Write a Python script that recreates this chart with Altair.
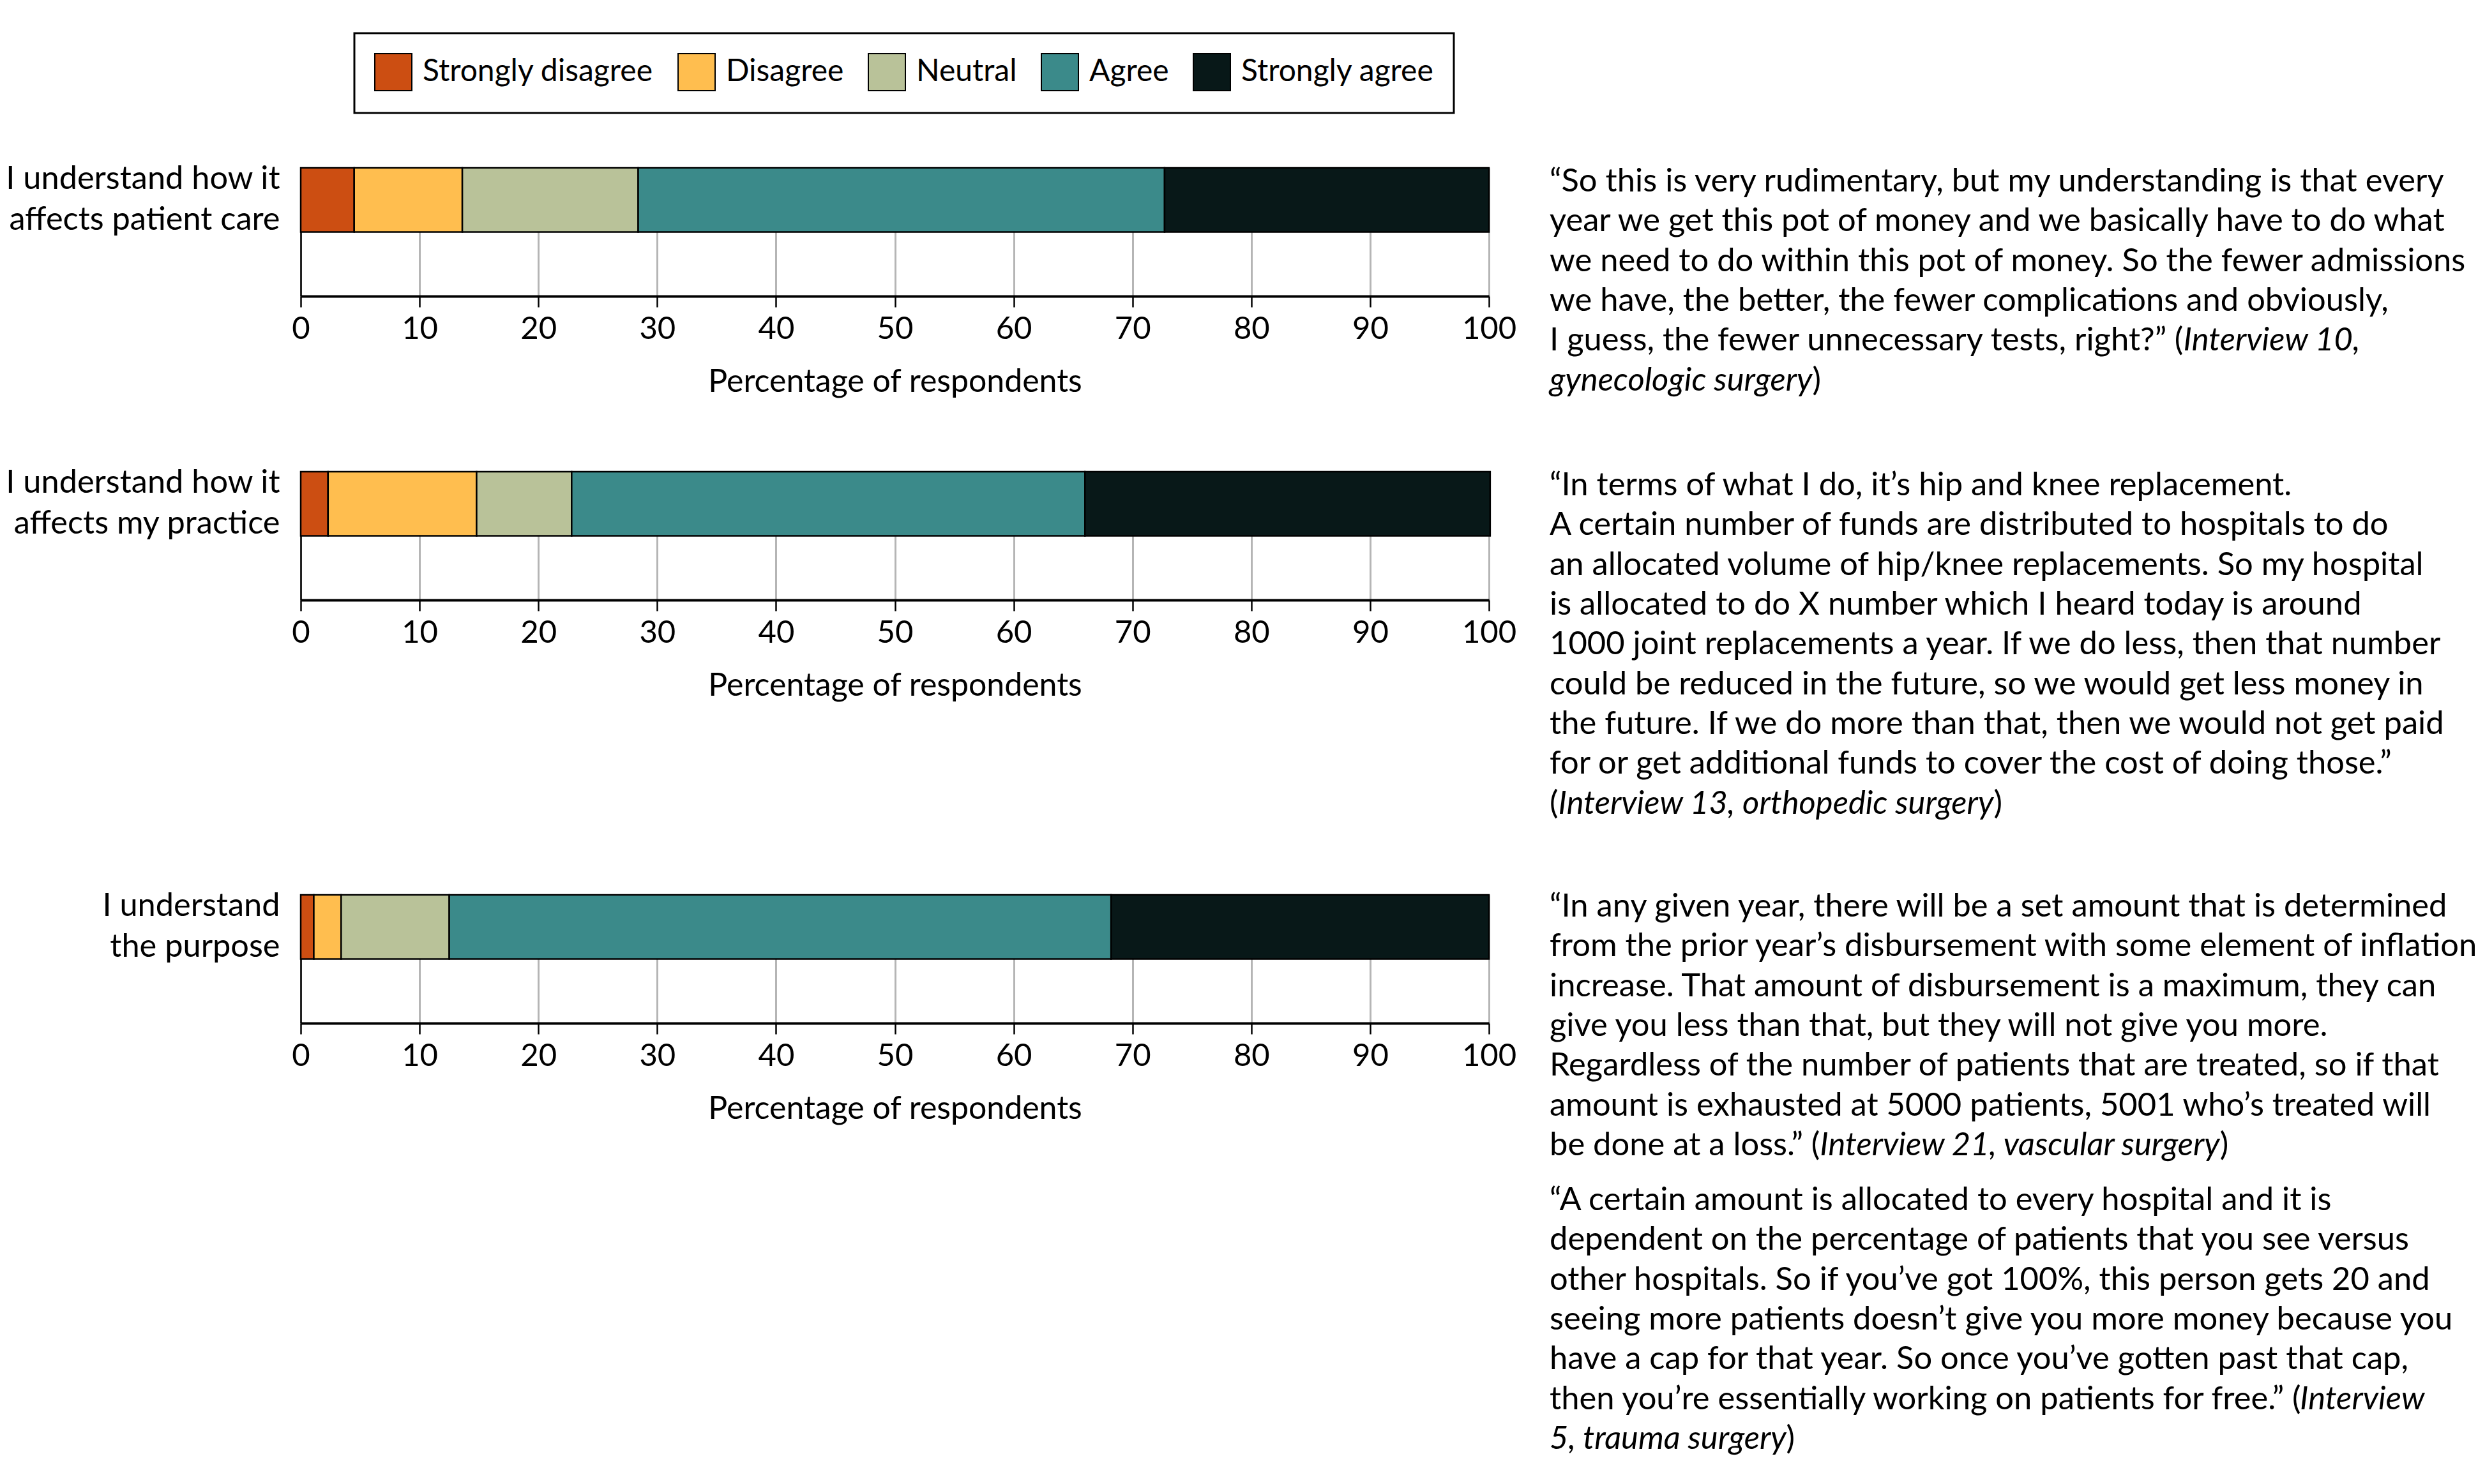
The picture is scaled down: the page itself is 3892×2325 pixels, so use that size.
import glob
import struct

import altair as alt
import pandas as pd

# ---------------- data ----------------
categories = ["Strongly disagree", "Disagree", "Neutral", "Agree", "Strongly agree"]
colors = ["#CC4E12", "#FFBE4F", "#B9C299", "#3B8A8A", "#081818"]

questions = [
    "I understand how it|affects patient care",
    "I understand how it|affects my practice",
    "I understand|the purpose",
]
values_patient_care = [4.5, 9.1, 14.8, 44.3, 27.3]
values_my_practice = [2.3, 12.5, 8.0, 43.2, 34.1]
values_purpose = [1.1, 2.3, 9.1, 55.7, 31.8]
x_ticks = [0, 10, 20, 30, 40, 50, 60, 70, 80, 90, 100]
x_title = "Percentage of respondents"

# text between * * is italic
quote_1 = [
    "\u201cSo this is very rudimentary, but my understanding is that every",
    "year we get this pot of money and we basically have to do what",
    "we need to do within this pot of money. So the fewer admissions",
    "we have, the better, the fewer complications and obviously,",
    "I guess, the fewer unnecessary tests, right?\u201d (*Interview 10,*",
    "*gynecologic surgery*)",
]
quote_2 = [
    "\u201cIn terms of what I do, it\u2019s hip and knee replacement.",
    "A certain number of funds are distributed to hospitals to do",
    "an allocated volume of hip/knee replacements. So my hospital",
    "is allocated to do X number which I heard today is around",
    "1000 joint replacements a year. If we do less, then that number",
    "could be reduced in the future, so we would get less money in",
    "the future. If we do more than that, then we would not get paid",
    "for or get additional funds to cover the cost of doing those.\u201d",
    "(*Interview 13, orthopedic surgery*)",
]
quote_3 = [
    "\u201cIn any given year, there will be a set amount that is determined",
    "from the prior year\u2019s disbursement with some element of inflation",
    "increase. That amount of disbursement is a maximum, they can",
    "give you less than that, but they will not give you more.",
    "Regardless of the number of patients that are treated, so if that",
    "amount is exhausted at 5000 patients, 5001 who\u2019s treated will",
    "be done at a loss.\u201d (*Interview 21, vascular surgery*)",
]
quote_4 = [
    "\u201cA certain amount is allocated to every hospital and it is",
    "dependent on the percentage of patients that you see versus",
    "other hospitals. So if you\u2019ve got 100%, this person gets 20 and",
    "seeing more patients doesn\u2019t give you more money because you",
    "have a cap for that year. So once you\u2019ve gotten past that cap,",
    "then you\u2019re essentially working on patients for free.\u201d (*Interview*",
    "*5, trauma surgery*)",
]

# ---------------- style ----------------
FONT = "Lato"
YFS = 50.5
TICK_FS = 49
TITLE_FS = 50
LEG_FS = 48
QFS = 50.7
LINE_H = 62.3
PLOT_W = 1861
PLOT_H = 201
QUOTE_W = 1440


# ---------------- font metrics (advance widths + GPOS pair kerning) ----------------
def font_measurer(fname):
    paths = glob.glob("/usr/share/fonts/**/" + fname, recursive=True)
    paths += glob.glob("/usr/local/share/fonts/**/" + fname, recursive=True)
    if not paths:
        return None
    try:
        data = open(paths[0], "rb").read()

        def u16(o):
            return struct.unpack_from(">H", data, o)[0]

        def s16(o):
            return struct.unpack_from(">h", data, o)[0]

        def u32(o):
            return struct.unpack_from(">I", data, o)[0]

        num = u16(4)
        tabs = {}
        for k in range(num):
            tag = data[12 + 16 * k:16 + 16 * k]
            tabs[tag] = u32(12 + 16 * k + 8)
        head = tabs[b"head"]
        upem = u16(head + 18)
        nh = u16(tabs[b"hhea"] + 34)
        hm = tabs[b"hmtx"]
        adv = [u16(hm + 4 * g) for g in range(nh)]
        cm = tabs[b"cmap"]
        sub = None
        for k in range(u16(cm + 2)):
            pid, eid = u16(cm + 4 + 8 * k), u16(cm + 6 + 8 * k)
            st = cm + u32(cm + 8 + 8 * k)
            if u16(st) == 4 and ((pid == 3 and eid == 1) or pid == 0):
                sub = st
                break
        if sub is None:
            return None
        st = sub
        segx2 = u16(st + 6)
        seg = segx2 // 2
        ends = [u16(st + 14 + 2 * i) for i in range(seg)]
        starts = [u16(st + 16 + segx2 + 2 * i) for i in range(seg)]
        deltas = [s16(st + 16 + 2 * segx2 + 2 * i) for i in range(seg)]
        rpos = st + 16 + 3 * segx2
        roffs = [u16(rpos + 2 * i) for i in range(seg)]

        gcache = {}

        def glyph(c):
            if c in gcache:
                return gcache[c]
            res = 0
            for i in range(seg):
                if ends[i] >= c:
                    if starts[i] <= c:
                        if roffs[i] == 0:
                            res = (c + deltas[i]) & 0xFFFF
                        else:
                            addr = rpos + 2 * i + roffs[i] + 2 * (c - starts[i])
                            g = u16(addr)
                            res = (g + deltas[i]) & 0xFFFF if g else 0
                    break
            gcache[c] = res
            return res

        # ---- GPOS pair kerning ----
        kern_lookups = []
        if b"GPOS" in tabs:
            try:
                gp = tabs[b"GPOS"]
                flist = gp + u16(gp + 6)
                llist = gp + u16(gp + 8)
                idxs = set()
                for i in range(u16(flist)):
                    if data[flist + 2 + 6 * i:flist + 6 + 6 * i] == b"kern":
                        ft = flist + u16(flist + 6 + 6 * i)
                        for j in range(u16(ft + 2)):
                            idxs.add(u16(ft + 4 + 2 * j))
                for li in sorted(idxs):
                    lt = llist + u16(llist + 2 + 2 * li)
                    ltype = u16(lt)
                    subs = []
                    for s in range(u16(lt + 4)):
                        sst = lt + u16(lt + 6 + 2 * s)
                        typ = ltype
                        if typ == 9:
                            typ = u16(sst + 2)
                            sst = sst + u32(sst + 4)
                        if typ == 2:
                            subs.append(sst)
                    if subs:
                        kern_lookups.append(subs)
            except Exception:
                kern_lookups = []

        def cov_index(cov, g):
            fmt = u16(cov)
            n = u16(cov + 2)
            if fmt == 1:
                lo, hi = 0, n - 1
                while lo <= hi:
                    mid = (lo + hi) // 2
                    v = u16(cov + 4 + 2 * mid)
                    if v == g:
                        return mid
                    if v < g:
                        lo = mid + 1
                    else:
                        hi = mid - 1
                return None
            for i in range(n):
                a, b = u16(cov + 4 + 6 * i), u16(cov + 6 + 6 * i)
                if a <= g <= b:
                    return u16(cov + 8 + 6 * i) + g - a
            return None

        def class_of(cd, g):
            fmt = u16(cd)
            if fmt == 1:
                sg, n = u16(cd + 2), u16(cd + 4)
                if sg <= g < sg + n:
                    return u16(cd + 6 + 2 * (g - sg))
                return 0
            for i in range(u16(cd + 2)):
                a, b = u16(cd + 4 + 6 * i), u16(cd + 6 + 6 * i)
                if a <= g <= b:
                    return u16(cd + 8 + 6 * i)
            return 0

        kcache = {}

        def kern(g1, g2):
            key = (g1, g2)
            if key in kcache:
                return kcache[key]
            total = 0
            for subs in kern_lookups:
                for sst in subs:
                    fmt = u16(sst)
                    ci = cov_index(sst + u16(sst + 2), g1)
                    if ci is None:
                        continue
                    vf1, vf2 = u16(sst + 4), u16(sst + 6)
                    s1 = 2 * bin(vf1).count("1")
                    s2 = 2 * bin(vf2).count("1")
                    xo = 2 * bin(vf1 & 3).count("1")
                    if fmt == 1:
                        ps = sst + u16(sst + 10 + 2 * ci)
                        rec = 2 + s1 + s2
                        found = False
                        for k in range(u16(ps)):
                            r = ps + 2 + k * rec
                            if u16(r) == g2:
                                if vf1 & 4:
                                    total += s16(r + 2 + xo)
                                found = True
                                break
                        if found:
                            break
                    elif fmt == 2:
                        c1 = class_of(sst + u16(sst + 8), g1)
                        c2 = class_of(sst + u16(sst + 10), g2)
                        c1n, c2n = u16(sst + 12), u16(sst + 14)
                        if c1 < c1n and c2 < c2n:
                            r = sst + 16 + (c1 * c2n + c2) * (s1 + s2)
                            if vf1 & 4:
                                total += s16(r + xo)
                        break
            kcache[key] = total
            return total

        has_kern = bool(kern_lookups)

        def width(s, size):
            gl = [glyph(ord(ch)) for ch in s]
            tot = sum(adv[min(g, nh - 1)] for g in gl)
            if has_kern:
                tot += sum(kern(a, b) for a, b in zip(gl, gl[1:]))
            w = tot * size / upem
            if not has_kern:
                w -= 0.2 * size * (s.count(".\u201d") + s.count(",\u201d"))
            return w

        return width
    except Exception:
        return None


measure_roman = font_measurer("Lato-Regular.ttf")
measure_italic = font_measurer("Lato-Italic.ttf")
if measure_roman is None or measure_italic is None:
    measure_roman = measure_italic = lambda s, size: len(s) * size * 0.47


def quote_table(lines):
    rows = []
    for i, line in enumerate(lines):
        parts = [(p, j % 2 == 1) for j, p in enumerate(line.split("*")) if p]
        xpos = 0.0
        for k, (part, italic) in enumerate(parts):
            rows.append({"line": i, "text": part, "xoff": xpos,
                         "style": "italic" if italic else "normal"})
            if k < len(parts) - 1:
                m = measure_italic if italic else measure_roman
                xpos += m(part, QFS)
    return pd.DataFrame(rows)


def quote_chart(lines, dy=-9):
    df = quote_table(lines)
    n = len(lines)
    base = alt.Chart(df).encode(
        x=alt.X("xoff:Q", scale=None, axis=None),
        y=alt.Y("line:O", axis=None, scale=alt.Scale(domain=list(range(n)))),
        text="text:N",
    )
    roman = base.transform_filter(alt.datum.style == "normal").mark_text(
        align="left", baseline="middle", font=FONT, fontSize=QFS, color="black", dy=dy
    )
    ital = base.transform_filter(alt.datum.style == "italic").mark_text(
        align="left", baseline="middle", font=FONT, fontSize=QFS, color="black",
        fontStyle="italic", dy=dy
    )
    return alt.layer(roman, ital).properties(width=QUOTE_W, height=n * LINE_H)


def bar_panel(question, vals):
    df = pd.DataFrame({
        "question": [question] * len(categories),
        "response": categories,
        "pct": vals,
        "order": list(range(len(categories))),
    })
    return alt.Chart(df).mark_bar(stroke="black", strokeWidth=2.5).encode(
        x=alt.X(
            "pct:Q", stack="zero",
            scale=alt.Scale(domain=[0, 100], nice=False, zero=True),
            axis=alt.Axis(
                values=x_ticks, title=x_title, grid=True, gridColor="#b5b5b5", gridWidth=3,
                domainColor="black", domainWidth=4, tickColor="black", tickWidth=2.5,
                tickSize=17, labelPadding=10, titlePadding=33, labelFlush=False,
                labelFontSize=TICK_FS, titleFontSize=TITLE_FS,
            ),
        ),
        y=alt.Y(
            "question:N",
            scale=alt.Scale(domain=[question, " "], paddingInner=0, paddingOuter=0),
            axis=alt.Axis(
                title=None, ticks=False, domainColor="black", domainWidth=2.5,
                labelExpr="datum.value == ' ' ? '' : split(datum.value, '|')",
                labelLineHeight=64, labelPadding=33, labelAlign="right",
                labelBaseline="middle", labelLimit=1000, labelOffset=-32,
                labelFontSize=YFS,
            ),
        ),
        color=alt.Color(
            "response:N",
            scale=alt.Scale(domain=categories, range=colors),
            legend=alt.Legend(
                orient="none", legendX=84, legendY=-211, direction="horizontal",
                columns=5, title=None, symbolType="square", symbolSize=3364,
                symbolStrokeColor="black", symbolStrokeWidth=2, symbolOpacity=1,
                labelFont=FONT, labelFontSize=LEG_FS, labelColor="black", labelLimit=1000,
                columnPadding=34, labelOffset=16, padding=31, strokeColor="black",
            ),
        ),
        order=alt.Order("order:Q"),
    ).properties(width=PLOT_W, height=PLOT_H)


row1 = alt.hconcat(bar_panel(questions[0], values_patient_care), quote_chart(quote_1), spacing=50)
row2 = alt.hconcat(bar_panel(questions[1], values_my_practice), quote_chart(quote_2), spacing=50)
row3 = alt.hconcat(
    bar_panel(questions[2], values_purpose),
    alt.vconcat(quote_chart(quote_3, -12), quote_chart(quote_4, -12), spacing=15),
    spacing=50,
)

chart = alt.vconcat(row1, alt.vconcat(row2, row3, spacing=93), spacing=93).properties(
    padding={"left": 7, "top": 50, "right": 0, "bottom": 5},
    background="white",
).configure_view(stroke="transparent").configure_axis(
    labelFont=FONT, titleFont=FONT, labelColor="black", titleColor="black",
    titleFontWeight="normal",
).configure_legend(strokeWidth=3)

chart.save("out.html", embed_options={"renderer": "svg", "actions": False})
